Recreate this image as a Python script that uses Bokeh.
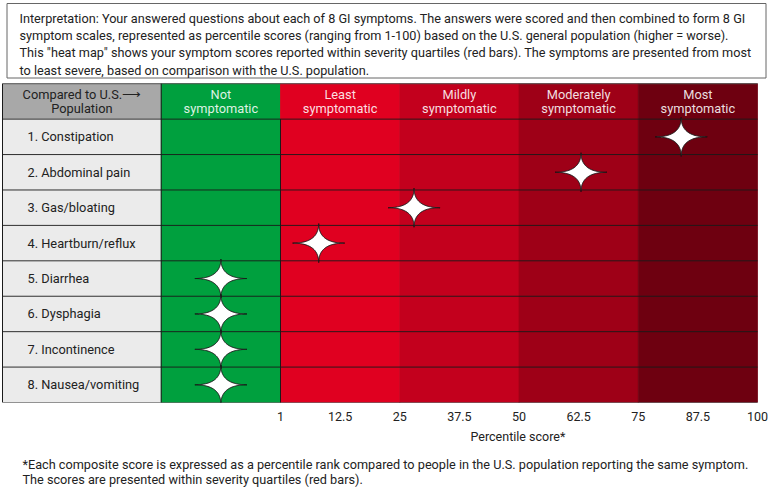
import numpy as np
from bokeh.plotting import figure
from bokeh.models import Range1d, FixedTicker, Title
from bokeh.core.properties import value
from bokeh.embed import file_html
from bokeh.resources import INLINE

# ---------------- data ----------------
symptoms = ["1. Constipation", "2. Abdominal pain", "3. Gas/bloating", "4. Heartburn/reflux",
            "5. Diarrhea", "6. Dysphagia", "7. Incontinence", "8. Nausea/vomiting"]
# percentile score; None = not symptomatic (shown in the green column)
percentile = [84, 63, 28, 8, None, None, None, None]

band_top = ["Not", "Least", "Mildly", "Moderately", "Most"]
band_bottom = ["symptomatic"] * 5
band_edges = [-25, 0, 25, 50, 75, 100]
band_colors = ["#00A03E", "#E00020", "#C3001D", "#9E0017", "#6E0010"]

tick_values = [0, 12.5, 25, 37.5, 50, 62.5, 75, 87.5, 100]
tick_labels = ["1", "12.5", "25", "37.5", "50", "62.5", "75", "87.5", "100"]

header_lines = ["Compared to U.S.\u27f6", "Population"]
axis_title = "Percentile score*"
intro_lines = [
    "Interpretation: Your answered questions about each of 8 GI symptoms. The answers were scored and then combined to form 8 GI",
    "symptom scales, represented as percentile scores (ranging from 1-100) based on the U.S. general population (higher = worse).",
    "This \"heat map\" shows your symptom scores reported within severity quartiles (red bars). The symptoms are presented from most",
    "to least severe, based on comparison with the U.S. population.",
]
footnote_lines = [
    "*Each composite score is expressed as a percentile rank compared to people in the U.S. population reporting the same symptom.",
    "The scores are presented within severity quartiles (red bars).",
]

# ---------------- layout helpers ----------------
FONT = "Roboto"
TXT = "#222222"
W = 768
PX0 = 280.0          # canvas x of score "1"
K = 4.77             # px per score unit
FH = 402
R = 35.42            # row height px
x0 = (0 - PX0) / K
x1 = (W - PX0) / K
y_bottom = 8.5
y_top = y_bottom - FH / R

def xd(px):
    return (px - PX0) / K

def yd(py):
    return y_top + py / R

n = len(symptoms)
rows = list(range(1, n + 1))
not_sym_x = (band_edges[0] + band_edges[1]) / 2

p = figure(frame_width=W, frame_height=FH, x_range=Range1d(x0, x1),
           y_range=Range1d(y_bottom, y_top), output_backend="svg",
           toolbar_location=None, y_axis_location=None,
           min_border_left=0, min_border_right=0, min_border_top=0, min_border_bottom=0)
p.outline_line_color = None
p.grid.visible = False
p.background_fill_color = "white"

# intro text box
p.quad(left=[xd(6.5)], right=[xd(765.5)], top=[yd(3)], bottom=[yd(77.5)],
       fill_color="white", line_color="#666666", line_width=1)
for i, line in enumerate(intro_lines):
    p.text(x=[xd(19)], y=[yd(17.5 + 17.4 * i)], text=[line], text_font=value(FONT),
           text_font_size="12.7px", text_color=TXT, text_align="left", text_baseline="middle")

# label column
tl = xd(2)
p.quad(left=[tl], right=[band_edges[0]], top=[-0.5], bottom=[0.5],
       fill_color="#A8A8A8", line_color="#A8A8A8", line_width=0.5)
p.quad(left=[tl] * n, right=[band_edges[0]] * n, top=[r - 0.5 for r in rows],
       bottom=[r + 0.5 for r in rows], fill_color="#EBEBEB", line_color="#EBEBEB", line_width=0.5)

# severity bands
p.quad(left=band_edges[:-1], right=band_edges[1:], top=[-0.5] * 5, bottom=[n + 0.5] * 5,
       fill_color=band_colors, line_color=band_colors, line_width=0.8)

# header texts
lab_cx = (tl + band_edges[0]) / 2
p.text(x=[lab_cx, lab_cx], y=[-0.19, 0.2], text=header_lines, text_font=value(FONT),
       text_font_size="12.8px", text_color=TXT, text_align="center", text_baseline="middle")
centers = [(a + b) / 2 for a, b in zip(band_edges[:-1], band_edges[1:])]
p.text(x=centers, y=[-0.19] * 5, text=band_top, text_font=value(FONT), text_font_size="12.8px",
       text_color="white", text_alpha=0.88, text_align="center", text_baseline="middle")
p.text(x=centers, y=[0.2] * 5, text=band_bottom, text_font=value(FONT), text_font_size="12.8px",
       text_color="white", text_alpha=0.88, text_align="center", text_baseline="middle")

# row labels
p.text(x=[xd(27)] * n, y=rows, text=symptoms, text_font=value(FONT), text_font_size="12.8px",
       text_color=TXT, text_align="left", text_baseline="middle")

# grid lines
p.segment(x0=[tl] * (n + 1), x1=[100] * (n + 1), y0=[r + 0.5 for r in range(n + 1)],
          y1=[r + 0.5 for r in range(n + 1)], line_color="#1a1a1a", line_width=1, line_alpha=0.9)
p.segment(x0=[tl], x1=[100], y0=[-0.5], y1=[-0.5], line_color="#555555", line_width=1)
p.segment(x0=[band_edges[0], band_edges[1], tl], x1=[band_edges[0], band_edges[1], tl],
          y0=[-0.5, 0.5, -0.5], y1=[n + 0.5] * 3, line_color="#1a1a1a", line_width=1)

# stars (four-pointed)
a = 26 / K
b = 19.5 / R
t = np.linspace(0, 2 * np.pi, 241)
sx = np.sign(np.cos(t)) * np.abs(np.cos(t)) ** 4
sy = np.sign(np.sin(t)) * np.abs(np.sin(t)) ** 4
xs, ys = [], []
for r, v in zip(rows, percentile):
    cx = v if v is not None else not_sym_x
    xs.append(list(cx + a * sx))
    ys.append(list(r + b * sy))
p.patches(xs=xs, ys=ys, fill_color="white", line_color="#1a1a1a", line_width=1)

# axis
ax = p.xaxis[0]
ax.ticker = FixedTicker(ticks=tick_values)
ax.major_label_overrides = {v: s for v, s in zip(tick_values, tick_labels)}
ax.axis_line_color = None
ax.major_tick_line_color = None
ax.minor_tick_line_color = None
ax.major_label_standoff = 3
ax.major_label_text_font = FONT
ax.major_label_text_font_size = "12.5px"
ax.major_label_text_color = TXT

p.add_layout(Title(text=axis_title, align="left", offset=518 - 48, standoff=6,
                   text_font=FONT, text_font_size="12.5px", text_font_style="normal",
                   text_color=TXT), "below")
p.add_layout(Title(text="\n".join(footnote_lines), align="left", offset=22, standoff=16,
                   text_font=FONT, text_font_size="12.7px", text_font_style="normal",
                   text_color=TXT), "below")

open("out.html", "w").write(file_html(p, INLINE))
